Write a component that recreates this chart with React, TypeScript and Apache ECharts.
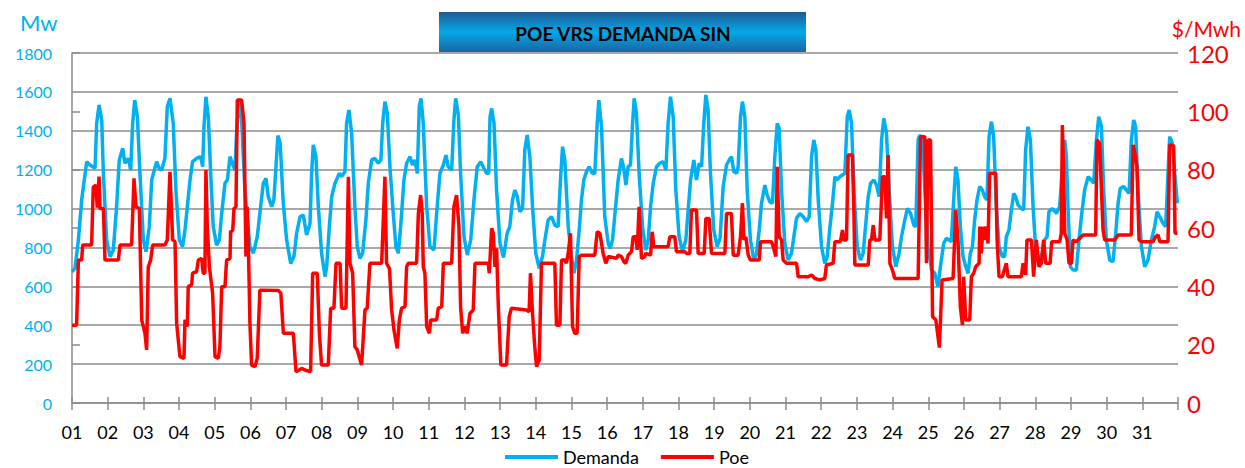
import React, { useEffect, useRef } from "react";
import * as echarts from "echarts";

const dayLabels = [
  "01", "02", "03", "04", "05", "06", "07", "08", "09", "10",
  "11", "12", "13", "14", "15", "16", "17", "18", "19", "20",
  "21", "22", "23", "24", "25", "26", "27", "28", "29", "30", "31",
];

// [hour of month, MW]
const demandMW: [number, number][] = [
  [0, 675], [2, 692], [4.3, 838], [6.5, 1044], [9.9, 1241], [12.1, 1224], [15.5, 1207], [16.6, 1438], [18.2, 1533], [20, 1455], [21.1, 1181], [23.3, 838],
  [25.6, 752], [27.8, 787], [30, 1010], [31.8, 1250], [34.1, 1310], [35.6, 1233], [37.9, 1258], [39.5, 1198], [40.8, 1438], [42.2, 1558], [44, 1472], [45.7, 1181],
  [48, 838], [49.8, 778], [52, 907], [53.6, 1147], [56.9, 1241], [58.7, 1207], [60.3, 1198], [62.5, 1258], [64.1, 1524], [65.9, 1567],
  [68.1, 1438], [69.9, 1095], [72.2, 838], [74.4, 804], [76, 890], [77.6, 1010], [79.4, 1147], [81.1, 1241], [83.8, 1258], [86.5, 1267], [87.9, 1215], [88.8, 1421],
  [90.1, 1575], [91.7, 1472], [93.3, 1181], [95, 907], [97.3, 812], [99.1, 838], [100.7, 975], [102.9, 1130], [104.5, 1147], [106.3, 1267], [107.8, 1233], [109.6, 1198],
  [110.7, 1387], [112.3, 1558], [114.1, 1455], [116.3, 1095], [119.7, 804], [122, 770], [124.6, 855], [126.9, 1010], [128.7, 1130], [130.5, 1155], [132, 1061],
  [134.3, 1010], [135.8, 1044], [137.2, 1215], [138.5, 1375], [140, 1340],
  [142.1, 1030], [144.4, 838], [147.1, 718], [149.3, 753], [151.1, 873], [153.4, 958], [155.6, 967], [157.8, 864], [160.1, 924], [161.2, 1181], [162.3, 1327],
  [164.1, 1267], [165.7, 1010], [167.9, 770], [170.2, 650], [171.3, 701], [173.1, 907], [174.7, 1061], [176.9, 1130], [179.8, 1181], [181.4, 1164], [183.6, 1190],
  [184.7, 1438], [186.3, 1507], [188.1, 1387], [190.3, 1010], [191.9, 804], [193.7, 744], [195.5, 770], [197.7, 941], [199.3, 1130], [201.6, 1250], [203.8, 1258],
  [206, 1233], [207.8, 1250], [209, 1438], [210.5, 1550], [212.1, 1490], [214, 1200],
  [216.1, 975], [217.9, 804], [219.5, 770], [221.1, 907], [223.3, 1147], [225.1, 1233], [227.4, 1267], [229.1, 1224], [230.7, 1250], [232.3, 1181], [233.6, 1524],
  [234.8, 1567], [236.3, 1438], [238.6, 1010], [240.8, 804], [243.5, 787], [245.3, 975], [247.5, 1181], [249.8, 1224], [251.6, 1275], [253.1, 1215], [255.4, 1198],
  [256.9, 1455], [258.1, 1567], [259.9, 1481], [261.4, 1181], [263.7, 855], [265.9, 761], [268.2, 838], [270.4, 1044], [272.6, 1215], [274.9, 1241], [277.1, 1207],
  [278.9, 1181], [280.3, 1181], [281.2, 1472], [282.3, 1515], [283.9, 1438], [285.6, 1095], [287.9, 821], [290.3, 748],
  [292.7, 873], [294.5, 907], [296.3, 1044], [297.9, 1095], [299.5, 1061], [301.3, 984], [303.1, 1001], [304.6, 1301], [306.2, 1378], [308, 1267], [309.8, 1010],
  [312, 770], [314.3, 693], [316.5, 753], [318.1, 838], [320.3, 941], [322.6, 958], [324.8, 915], [327, 907], [328.6, 1147], [330, 1318], [331.5, 1250], [333.8, 907],
  [336, 753], [337.6, 667], [339.4, 735], [341.2, 890], [342.7, 1044], [344.3, 1147], [346.1, 1190], [347.9, 1215], [350.1, 1181], [351.7, 1181], [353.3, 1438],
  [354.4, 1558], [356.2, 1421], [358.4, 958], [360.7, 821], [362, 795],
  [363.6, 838], [365.2, 970], [367.4, 1147], [369.6, 1258], [371.2, 1207], [372.6, 1121], [374.1, 1215], [375.7, 1224], [377.1, 1438], [378.2, 1567], [379.7, 1490],
  [381.5, 1181], [383.8, 907], [386, 787], [387.6, 838], [389.2, 1010], [391, 1130], [393.2, 1215], [395.4, 1233], [397.7, 1241], [399.5, 1198], [401, 1438],
  [402.6, 1575], [404.4, 1472], [406.2, 1095], [408.4, 855], [410.7, 778], [412.9, 838], [414.5, 993], [416.1, 1147], [418.3, 1250], [420.1, 1147], [421.9, 1233],
  [423.5, 1215], [425, 1438], [426.4, 1584], [427.9, 1507], [429.5, 1181], [431.7, 890], [434, 804], [436, 850],
  [438, 1110], [440.3, 1224], [442.1, 1250], [443.6, 1267], [445.2, 1190], [447, 1181], [448.1, 1215], [449.7, 1472], [451, 1550], [452.6, 1472], [454.2, 1095],
  [456.4, 838], [458.7, 735], [460.5, 770], [462.3, 890], [463.8, 1027], [466.1, 1121], [467.6, 1070], [469.4, 1035], [471.2, 1027], [472.8, 1267], [474.4, 1438],
  [475.7, 1412], [477.3, 1095], [479.5, 821], [481.8, 735], [484, 770], [485.6, 855], [487.4, 950], [489.6, 975], [491.9, 958], [494.1, 933], [495.9, 958],
  [497.5, 1267], [499, 1353], [500.4, 1301], [502, 1044], [504.2, 804], [506.4, 718], [508, 753], [509.8, 900],
  [511.6, 1027], [513.2, 1164], [514.7, 1147], [516.5, 1164], [518.3, 1173], [519.9, 1181], [521.5, 1472], [522.8, 1507], [524.4, 1438], [526, 1095], [528.2, 804],
  [530.4, 735], [532.2, 770], [534, 924], [535.6, 1061], [537.2, 1130], [539.4, 1147], [541.2, 1121], [543, 1061], [544.6, 1353], [546.1, 1464], [547.9, 1387],
  [549.7, 1095], [551.9, 804], [554.2, 701], [556.4, 770], [558, 855], [560.2, 941], [562, 1001], [564.1, 975], [566.3, 915], [567.6, 907], [569.2, 1353],
  [570.3, 1378], [572.1, 1353], [573.7, 1095], [575.9, 804], [578.2, 684], [580.4, 667], [582.5, 598], [584.5, 720],
  [586.4, 821], [588.2, 847], [590, 838], [591.5, 830], [593.1, 1044], [594.5, 1215], [596, 1147], [597.6, 907], [599.4, 753], [601.2, 701], [602.8, 667],
  [604.3, 770], [605.7, 804], [607.2, 941], [608.8, 1044], [610.6, 1113], [612.4, 1095], [614, 1061], [615.5, 1044], [616.9, 1370], [618.5, 1447], [620, 1370],
  [621.8, 1010], [623.6, 804], [625.8, 753], [627.4, 753], [628.5, 855], [630.3, 890], [631.9, 993], [633.5, 1078], [634.8, 1061], [636.4, 1018], [638.6, 1001],
  [640.2, 993], [641.5, 1301], [643.1, 1421], [644.7, 1353], [646.5, 1010], [648.3, 787], [650.5, 744], [652.1, 753], [654.3, 838], [655.9, 855], [657.2, 984],
  [659.5, 1000],
  [662.2, 975], [664.4, 1010], [666.7, 1267], [667.8, 1353], [668.9, 1267], [670, 1010], [671.6, 701], [673.4, 684], [675.6, 684], [677.4, 838], [679, 958],
  [681.2, 1095], [683.5, 1164], [685.7, 1147], [687.3, 1130], [689.1, 1353], [690.7, 1472], [692.5, 1421], [694, 1095], [695.8, 838], [698.1, 735], [700.3, 727],
  [702.1, 873], [703.7, 1027], [705.2, 1104], [707.5, 1113], [709.3, 1095], [711.1, 1078], [712.6, 1353], [714.2, 1455], [715.5, 1421], [717.1, 1095], [719.4, 804],
  [721.6, 701], [723.8, 735], [726.1, 838], [728.3, 907], [729.9, 984], [731.7, 958], [733.9, 924], [735.7, 907], [737.3, 1181], [738.4, 1370], [740.2, 1336],
  [741.8, 1181], [743.6, 1027],
];

// [hour of month, $/MWh]
const poeUSD: [number, number][] = [
  [0, 26.7], [3.1, 26.7], [4.3, 49], [6.5, 49], [7.2, 54.2], [13.2, 54.2], [14.3, 74], [16.1, 74.7], [17, 67], [18.2, 77.6], [18.8, 66.7], [21.1, 66.7], [22.2, 49],
  [31.2, 49], [32.3, 54.2], [40.1, 54.2], [41.7, 77], [43, 67.3], [45.3, 66.7], [46.9, 28.5], [49.1, 23.9], [50.2, 18.2], [51.3, 46.7], [52.9, 49], [54.3, 54.2],
  [62.5, 54.2], [64.1, 55.9], [65.9, 79.3], [67.7, 55.9],
  [69.3, 55.3], [70.4, 27.3], [72.6, 15.9], [75.3, 15.3], [76, 28.5], [77.6, 26.2], [78.2, 39.9], [80.5, 40.5], [81.1, 44.5], [83.8, 45], [85, 49], [87.2, 49.6],
  [88.3, 44.5], [89.4, 44.5], [90.1, 79.9], [91, 60.5], [92.4, 46.7], [94.6, 37.6], [96.2, 15.9], [98.4, 15.3], [99.5, 19.3], [100.7, 39.9], [102.9, 39.9],
  [104, 49], [106.3, 49.6], [106.7, 58.7], [108.1, 59.3], [109, 66.7], [110.3, 67.3], [111.2, 103.9], [114.1, 103.9], [115.7, 95.9], [117, 50.2], [117.9, 67.3],
  [118.8, 50.2], [119.7, 27.3], [120.8, 13], [123.1, 12.5], [124.6, 15.3], [126.4, 38.7], [128.7, 38.7], [138.8, 38.6], [140.5, 37.6], [142.2, 23.9],
  [148.9, 23.9], [150.7, 10.7], [152.9, 11.3], [154.5, 11.9], [156.7, 11.3], [160.5, 10.7], [161.9, 44.5], [165, 44.5], [166.4, 23.9], [167.9, 13], [172.4, 13],
  [174, 32.5], [176.2, 32.5], [177.6, 47.9], [180.3, 47.9], [181.4, 32.5], [184.3, 32.5], [185.9, 77.6], [187, 47.9], [188.8, 44.5], [190.3, 19.3], [191.9, 18.2],
  [194.8, 13], [197.1, 31.9], [198.6, 32.5], [200.4, 47.9], [208.3, 47.9], [210.5, 77.6], [211.6, 47.9], [213.6, 46], [215, 32],
  [216.6, 25], [218.8, 18.7], [220.2, 28.5], [221.7, 32.5], [224, 33], [225.1, 46.7], [226.2, 47.9], [231.8, 47.9], [233, 65], [234.5, 71.3], [235.6, 65],
  [236.3, 46.7], [237.4, 44.5], [238.6, 26.2], [240.4, 23.9], [241.3, 28.5], [245.3, 28.5], [246.4, 32.5], [248.7, 33], [249.8, 47.9], [255.4, 47.9], [256.9, 67.3],
  [258.7, 71.3], [260.3, 60.5], [261.4, 33], [262.8, 23.9], [264.3, 26.2], [265.9, 23.9], [267.7, 30.7], [269.9, 31.9], [271.1, 47.9], [280, 47.9], [280.7, 44.5],
  [282.3, 59.9], [283.4, 58.2], [284.5, 46.7], [285.6, 53], [286.8, 33], [288.5, 13],
  [292.3, 13], [294.1, 29.6], [295.6, 32.5], [305.7, 31.9], [307.5, 31.3], [308.4, 44.5], [309.8, 30.7], [311.3, 19.3], [312.5, 12.5], [314.3, 14.7], [315.8, 47.9],
  [324.8, 47.9], [325.9, 26.7], [328.2, 26.7], [329.3, 49], [331.5, 49], [332.6, 47.9], [333.8, 51.3], [335.3, 58.2], [336.7, 26.2], [338.2, 23.9], [339.8, 23.9],
  [341.2, 50.2], [342.7, 50.7], [351.7, 50.7], [353.3, 58.7], [355.1, 58.2], [357.3, 51.3], [359.1, 47.9], [360.7, 50.2],
  [366.3, 49.6], [367.4, 50.7], [369.6, 50.2], [371.2, 48.5], [372.6, 47.9], [374.1, 50.7], [376.4, 51.9], [377.5, 57], [379.3, 57], [380.2, 52.5], [381.5, 67.3],
  [382.7, 53.6], [383.1, 49.6], [385.3, 50.2], [386, 51.3], [389.2, 50.7], [390.3, 58.7], [391.4, 53.6], [401, 53.6], [402.2, 57], [405.5, 57], [406.6, 51.9],
  [412.2, 51.9], [413.4, 51.3], [415.6, 51.3], [416.7, 66.2], [420.1, 66.2], [421.2, 51.3], [425.3, 51.3], [426.4, 63.3], [428.6, 63.3], [430.2, 51.3],
  [439.2, 51.3], [440.3, 65], [443.6, 65], [444.8, 50.7], [448.1, 50.7], [449.7, 57], [451, 68.5], [452, 55.9], [453.3, 57], [454.9, 50.7], [456.4, 49],
  [462.3, 49], [463.2, 55.3], [470.5, 55.3], [471.7, 53.6], [473.5, 50.2], [474.4, 81], [475.7, 57], [477.3, 55.9], [478.4, 49], [480.6, 47.9], [487.4, 47.9],
  [488.5, 43.3], [495.2, 43.3], [497.5, 43.9], [499.7, 42.7], [503.1, 42.2], [506.4, 42.7], [507.5, 47.3], [512, 47.9],
  [513.2, 55.3], [516.9, 55.3], [518.3, 59.3], [519.2, 55.9], [521, 55.9], [522.1, 85], [525, 85], [526, 65], [526.6, 47.3], [535.6, 47.3], [536.7, 55.9],
  [537.8, 55.9], [539, 61], [540.1, 55.9], [543.4, 55.9], [545.2, 77.6], [546.8, 77.6], [547.9, 63.3], [549, 85], [550.2, 47.9], [551.9, 45.6], [553.5, 42.7],
  [569.2, 42.7], [570.8, 91.3], [573.7, 91.3], [574.8, 47.9], [575.9, 90.2], [577.5, 90.2], [578.9, 29.6], [581.1, 28.5], [583.5, 19], [585.3, 42.2],
  [592.7, 42.7], [594.5, 66.2], [596, 55.9], [597.6, 33], [599, 26.7], [599.8, 43.3], [601.2, 28.5], [603.9, 28.5], [605, 43.3], [606.6, 44.5], [607.9, 46.7],
  [610.2, 47.9], [610.6, 60.5], [611.7, 51.3], [612.8, 60.5], [614, 55.9], [615.1, 60.5], [616.2, 54.7], [617.3, 78.8], [621.4, 78.8], [622.3, 55.9], [623.6, 43.3],
  [625.8, 43.3], [628.5, 47.9], [629.7, 43.3], [638.6, 43.3], [639.8, 47.9], [641.5, 43.9], [642.4, 55.9], [645.4, 55.9], [646.9, 43.3], [648.7, 55.9],
  [650.5, 46.7], [652.1, 47.9], [653.6, 55.9], [655, 47.9], [658, 47.9],
  [659, 55.3], [664.4, 55.3], [665.5, 58.2], [666.2, 95.3], [667.1, 78.8], [667.8, 58.2], [669.4, 55.9], [670.7, 47.9], [672.3, 47.9], [673.4, 55.9],
  [675.6, 55.3], [677.9, 56.5], [680.1, 57.6], [688.6, 57.6], [689.5, 90.2], [691.3, 89], [692.5, 73], [693.6, 59.3], [694.7, 55.9], [701.4, 55.9], [703.7, 57.6],
  [712.6, 57.6], [713.8, 88.5], [715.5, 84.5], [716.4, 81], [717.8, 55.9], [719.4, 55.3], [727.2, 55.3], [729, 57], [730.6, 57.6], [731.7, 55.3], [737.3, 55.3],
  [738.4, 88.5], [741.1, 88.1], [742, 58.2], [743.6, 58.2],
];

const HOURS_PER_DAY = 24;
const TOTAL_HOURS = dayLabels.length * HOURS_PER_DAY;

const CYAN = "#00B0F0";
const RED = "#FF0000";
const GRID_GRAY = "#8c8c8c";
const FONT = "Lato, 'Liberation Sans', sans-serif";

export default function App() {
  const ref = useRef<HTMLDivElement>(null);

  useEffect(() => {
    if (!ref.current) return;
    const chart = echarts.init(ref.current, undefined, { renderer: "svg" });
    chart.setOption({
      animation: false,
      backgroundColor: "#ffffff",
      textStyle: { fontFamily: FONT },
      grid: { left: 72, top: 53, width: 1106, height: 350, containLabel: false },
      legend: {
        data: ["Demanda", "Poe"],
        left: 505,
        top: 448,
        padding: 0,
        icon: "rect",
        itemWidth: 53,
        itemHeight: 4,
        itemGap: 22,
        textStyle: { fontSize: 18, lineHeight: 18, color: "#000", fontFamily: FONT },
      },
      xAxis: [
        {
          type: "value",
          min: 0,
          max: TOTAL_HOURS,
          interval: HOURS_PER_DAY,
          position: "bottom",
          axisLine: { show: true, lineStyle: { color: GRID_GRAY, width: 1.5 } },
          axisTick: { show: true, length: 7, lineStyle: { color: GRID_GRAY, width: 1.5 } },
          axisLabel: {
            color: "#000",
            fontSize: 18,
            margin: 20,
            fontFamily: FONT,
            formatter: (v: number) => dayLabels[Math.round(v / HOURS_PER_DAY)] ?? "",
          },
          splitLine: { show: false },
        },
        {
          type: "value",
          min: 0,
          max: TOTAL_HOURS,
          interval: HOURS_PER_DAY,
          position: "bottom",
          axisLine: { show: false },
          axisTick: { show: true, inside: true, length: 6, lineStyle: { color: GRID_GRAY, width: 1.5 } },
          axisLabel: { show: false },
          splitLine: { show: false },
        },
      ],
      yAxis: [
        {
          type: "value",
          min: 0,
          max: 1800,
          interval: 200,
          position: "left",
          axisLine: { show: false },
          axisTick: { show: false },
          axisLabel: {
            color: CYAN,
            fontSize: 16,
            margin: 20,
            fontFamily: FONT,
            formatter: (v: number) => String(v),
          },
          splitLine: { show: true, lineStyle: { color: GRID_GRAY, width: 1.5 } },
        },
        {
          type: "value",
          min: 0,
          max: 120,
          interval: 20,
          position: "right",
          axisLine: { show: true, lineStyle: { color: GRID_GRAY, width: 1.5 } },
          axisTick: { show: true, length: 8, lineStyle: { color: GRID_GRAY, width: 1.5 } },
          axisLabel: { color: RED, fontSize: 24, margin: 9, fontFamily: FONT, formatter: (v: number) => String(v) },
          splitLine: { show: false },
        },
      ],
      graphic: [
        {
          type: "rect",
          shape: { x: 439, y: 12, width: 367, height: 40 },
          style: {
            fill: new echarts.graphic.LinearGradient(0, 0, 0, 1, [
              { offset: 0, color: "#1f5a92" },
              { offset: 0.5, color: "#04a8e8" },
              { offset: 1, color: "#1b65a2" },
            ]),
          },
          z: 10,
        },
        {
          type: "text",
          x: 623,
          y: 33,
          style: {
            text: "POE VRS DEMANDA SIN",
            fill: "#000",
            font: `bold 19px ${FONT}`,
            align: "center",
            verticalAlign: "middle",
          },
          z: 11,
        },
        {
          type: "text",
          x: 20,
          y: 22,
          style: { text: "Mw", fill: CYAN, font: `22px ${FONT}`, align: "left", verticalAlign: "middle" },
        },
        {
          type: "text",
          x: 1241,
          y: 28,
          style: { text: "$/Mwh", fill: RED, font: `21px ${FONT}`, align: "right", verticalAlign: "middle" },
        },
      ],
      series: [
        {
          name: "Demanda",
          type: "line",
          xAxisIndex: 0,
          yAxisIndex: 0,
          data: demandMW,
          symbol: "none",
          showSymbol: false,
          smooth: false,
          lineStyle: { color: CYAN, width: 3.5 },
          itemStyle: { color: CYAN },
        },
        {
          name: "Poe",
          type: "line",
          xAxisIndex: 0,
          yAxisIndex: 1,
          data: poeUSD,
          symbol: "none",
          showSymbol: false,
          smooth: false,
          lineStyle: { color: RED, width: 3.5 },
          itemStyle: { color: RED },
        },
      ],
    });
    return () => chart.dispose();
  }, []);

  return (
    <div
      ref={ref}
      style={{ position: "absolute", left: 0, top: 0, width: 1245, height: 468 }}
    />
  );
}
